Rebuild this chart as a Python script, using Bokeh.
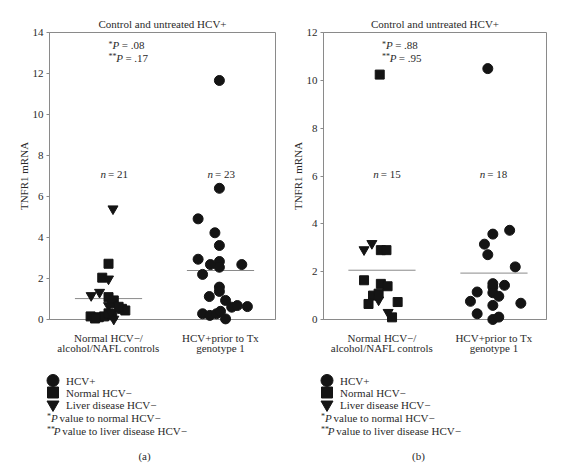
from bokeh.plotting import figure
from bokeh.layouts import row, column
from bokeh.models import Range1d, FixedTicker, ColumnDataSource
from bokeh.core.properties import value
from bokeh.embed import file_html
from bokeh.resources import INLINE

FONT = "Liberation Serif"
TXT = "#2a2a2a"
GRAY = "#8a8a8a"
MARK = "#141414"

# ---------------- data ----------------
cat_labels = ["Normal HCV\u2212/\nalcohol/NAFL controls", "HCV+prior to Tx\ngenotype 1"]
cat_pos = [1, 2]
title_text = "Control and untreated HCV+"
y_label = "TNFR1 mRNA"

# panel (a)
a_sq_dx = [0.00, -0.056, 0.00, 0.047, 0.12, 0.15, -0.16, -0.087, -0.04, 0.033, 0.03, 0.00, -0.12, 0.09]
a_sq_y = [2.72, 2.04, 1.09, 0.93, 0.52, 0.44, 0.15, 0.11, 0.15, 0.20, 0.80, 0.30, 0.05, 0.62]
a_tri_dx = [0.04, 0.00, -0.155, -0.08, 0.00, 0.047, 0.02]
a_tri_y = [5.40, 1.98, 1.17, 1.33, 0.68, 0.02, 0.35]
a_circ_dx = [-0.01, -0.01, -0.20, -0.05, -0.01, -0.20, -0.01, -0.09, -0.01, 0.19, -0.16, -0.01,
             -0.01, -0.10, 0.045, 0.10, 0.15, 0.24, -0.16, -0.095, -0.036, 0.00, 0.045]
a_circ_y = [11.66, 6.40, 4.91, 4.23, 3.61, 2.94, 2.83, 2.68, 2.55, 2.68, 2.20, 1.58,
            1.37, 1.12, 0.93, 0.60, 0.68, 0.63, 0.28, 0.20, 0.28, 0.40, 0.03]
a_mean = [1.02, 2.39]
a_n = [21, 23]
a_p = [".08", ".17"]
a_yticks = [0, 2, 4, 6, 8, 10, 12, 14]

# panel (b)
b_sq_dx = [-0.02, -0.01, 0.04, -0.16, -0.01, 0.05, -0.08, -0.03, -0.12, 0.14, 0.09]
b_sq_y = [10.24, 2.90, 2.90, 1.64, 1.49, 1.39, 1.00, 1.08, 0.65, 0.73, 0.09]
b_tri_dx = [-0.16, -0.09, -0.03, 0.055]
b_tri_y = [2.92, 3.18, 0.82, 0.30]
b_circ_dx = [-0.055, 0.14, -0.01, -0.085, -0.055, 0.19, -0.01, 0.094, -0.15, -0.01, 0.043, -0.21,
             0.24, -0.01, -0.15, -0.01, 0.043, -0.01]
b_circ_y = [10.49, 3.73, 3.57, 3.15, 2.71, 2.20, 1.36, 1.43, 1.15, 1.12, 0.97, 0.76,
            0.68, 0.59, 0.24, 0.00, 0.10, 1.50]
b_mean = [2.06, 1.94]
b_n = [15, 18]
b_p = [".88", ".95"]
b_yticks = [0, 2, 4, 6, 8, 10, 12]

legend_labels = ["HCV+", "Normal HCV\u2212", "Liver disease HCV\u2212"]
legend_markers = ["circle", "square", "inverted_triangle"]
footnote_stars = ["*", "**"]
footnote_texts = ["value to normal HCV\u2212", "value to liver disease HCV\u2212"]
captions = ["(a)", "(b)"]

# ---------------- layout constants ----------------
MAIN_H = 368
LEG_H = 99
FRAME_TOP = 32
FRAME_BOTTOM = 319


def txt(p, src, **kw):
    base = dict(text_font=value(FONT), text_font_size="11px", text_color=TXT,
                text_baseline="middle")
    base.update(kw)
    return p.text(x="x", y="y", text="text", source=src, **base)


def make_panel(width, border_l, border_r, x_start, x_end, y_end, yticks,
               sq_dx, sq_y, tri_dx, tri_y, circ_dx, circ_y, means, ns, pvals,
               p_y, n_x, n_y):
    p = figure(width=width, height=MAIN_H, x_range=Range1d(x_start, x_end),
               y_range=Range1d(0, y_end), output_backend="svg", toolbar_location=None,
               min_border_left=border_l, min_border_right=border_r,
               min_border_top=FRAME_TOP, min_border_bottom=MAIN_H - FRAME_BOTTOM)
    p.title.text = title_text
    p.title.align = "center"
    p.title.text_font = FONT
    p.title.text_font_size = "11px"
    p.title.text_font_style = "normal"
    p.title.text_color = TXT
    p.title.standoff = 6
    p.grid.visible = False
    p.outline_line_color = GRAY
    p.outline_line_width = 1

    ya = p.yaxis[0]
    ya.ticker = FixedTicker(ticks=yticks)
    ya.axis_label = y_label
    ya.axis_label_text_font = FONT
    ya.axis_label_text_font_size = "11px"
    ya.axis_label_text_font_style = "normal"
    ya.axis_label_text_color = TXT
    ya.axis_label_standoff = 0
    ya.major_label_text_font = FONT
    ya.major_label_text_font_size = "11px"
    ya.major_label_text_color = TXT
    ya.major_label_standoff = 3
    ya.major_tick_out = 3
    ya.major_tick_in = 0
    ya.minor_tick_line_color = None
    ya.axis_line_color = GRAY
    ya.major_tick_line_color = GRAY

    xa = p.xaxis[0]
    xa.ticker = FixedTicker(ticks=cat_pos)
    xa.major_label_overrides = {c: l for c, l in zip(cat_pos, cat_labels)}
    xa.major_tick_line_color = None
    xa.minor_tick_line_color = None
    xa.axis_line_color = GRAY
    xa.major_label_standoff = 6
    xa.major_label_text_font = FONT
    xa.major_label_text_font_size = "11px"
    xa.major_label_text_color = TXT
    xa.major_label_text_line_height = 0.85

    # mean lines
    p.segment(x0=[c - 0.3 for c in cat_pos], x1=[c + 0.3 for c in cat_pos],
              y0=means, y1=means, line_color=GRAY, line_width=1)

    # points
    src_sq = ColumnDataSource(dict(x=[cat_pos[0] + d for d in sq_dx], y=sq_y))
    src_tri = ColumnDataSource(dict(x=[cat_pos[0] + d for d in tri_dx], y=tri_y))
    src_c = ColumnDataSource(dict(x=[cat_pos[1] + d for d in circ_dx], y=circ_y))
    p.scatter("x", "y", source=src_sq, marker="square", size=9, color=MARK, level="overlay")
    p.scatter("x", "y", source=src_tri, marker="inverted_triangle", size=10, color=MARK, level="overlay")
    p.scatter("x", "y", source=src_c, marker="circle", size=10, color=MARK, level="overlay")

    # n labels
    txt(p, ColumnDataSource(dict(x=n_x, y=[n_y] * 2, text=["n", "n"])),
        text_font_style="italic", text_align="right", x_offset=-8.5)
    txt(p, ColumnDataSource(dict(x=n_x, y=[n_y] * 2, text=["= %d" % n for n in ns])),
        text_align="left", x_offset=-6.5)

    # P annotations
    px = [cat_pos[0]] * 2
    txt(p, ColumnDataSource(dict(x=px, y=p_y, text=footnote_stars)),
        text_font_size="8px", text_align="left", y_offset=-1)
    txt(p, ColumnDataSource(dict(x=px, y=p_y, text=["P", "P"], xo=[4.0, 7.7])),
        text_font_style="italic", text_align="left", x_offset="xo")
    txt(p, ColumnDataSource(dict(x=px, y=p_y, text=["= " + v for v in pvals], xo=[13.2, 16.9])),
        text_align="left", x_offset="xo")
    return p


def make_legend(width, fl, caption_x, caption):
    lf = figure(width=width, height=LEG_H, x_range=Range1d(0, width), y_range=Range1d(LEG_H, 0),
                output_backend="svg", toolbar_location=None, min_border=0,
                x_axis_location=None, y_axis_location=None)
    lf.grid.visible = False
    lf.outline_line_color = None
    rows = [12 + 12 * i for i in range(len(legend_labels))]
    lf.scatter(x=[fl + 3.5] * 3, y=rows, marker=legend_markers, size=[12, 11, 12], color=MARK)
    txt(lf, ColumnDataSource(dict(x=[fl + 16.5] * 3, y=rows, text=legend_labels)), text_align="left")
    frows = [49 + 13 * i for i in range(len(footnote_texts))]
    txt(lf, ColumnDataSource(dict(x=[fl - 2.5] * 2, y=frows, text=footnote_stars)),
        text_font_size="8px", text_align="left", y_offset=-1)
    txt(lf, ColumnDataSource(dict(x=[fl + 1.5, fl + 4.2], y=frows, text=["P", "P"])),
        text_font_style="italic", text_align="left")
    txt(lf, ColumnDataSource(dict(x=[fl + 10.0, fl + 12.7], y=frows, text=footnote_texts)),
        text_align="left")
    txt(lf, ColumnDataSource(dict(x=[caption_x], y=[87], text=[caption])), text_align="center")
    return lf


pa = make_panel(282, 49, 7, 0.473, 2.491, 14, a_yticks, a_sq_dx, a_sq_y, a_tri_dx, a_tri_y,
                a_circ_dx, a_circ_y, a_mean, a_n, a_p, [13.37, 12.76], [1.053, 2.009], 7.09)
pb = make_panel(289, 41, 25, 0.478, 2.469, 12, b_yticks, b_sq_dx, b_sq_y, b_tri_dx, b_tri_y,
                b_circ_dx, b_circ_y, b_mean, b_n, b_p, [11.46, 10.95], [1.047, 1.998], 6.08)
la = make_legend(282, 49, 144, captions[0])
lb = make_legend(289, 41, 136, captions[1])

layout = column(row(pa, pb), row(la, lb))
open("out.html", "w").write(file_html(layout, INLINE))
